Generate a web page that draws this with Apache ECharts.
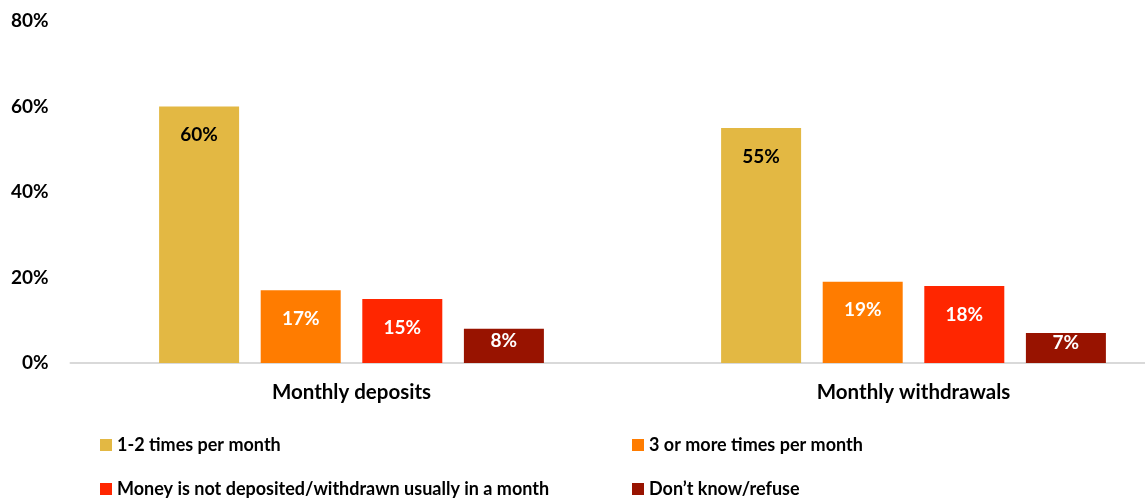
<!DOCTYPE html>
<html>
<head>
<meta charset="utf-8">
<script src="https://cdn.jsdelivr.net/npm/echarts@6/dist/echarts.min.js"></script>
<style>
  html, body { margin: 0; padding: 0; background: #fff; }
  #chart { width: 1145px; height: 501px; }
</style>
</head>
<body>
<div id="chart"></div>
<script>
// Frequency of deposits and withdrawals, share of respondents (%)
const categories = ['Monthly deposits', 'Monthly withdrawals'];
const seriesNames = [
  '1-2 times per month',
  '3 or more times per month',
  'Money is not deposited/withdrawn usually in a month',
  'Don\u2019t know/refuse'
];
const onceOrTwice = [60, 55];
const threeOrMore = [17, 19];
const notUsually = [15, 18];
const dontKnow = [8, 7];
const yTicks = [0, 20, 40, 60, 80];

const colors = ['#E3B843', '#FF7C00', '#FF2600', '#981300'];
const labelColors = ['#000000', '#ffffff', '#ffffff', '#ffffff'];
const FONT = 'Lato';

// Short bars get their label closer to the top edge
function labelDistance(v) {
  return v >= 10 ? 19 : Math.max(0, (v - 7) * 3);
}

const values = [onceOrTwice, threeOrMore, notUsually, dontKnow];
const series = values.map((vals, i) => ({
  name: seriesNames[i],
  type: 'bar',
  barWidth: 80,
  barGap: '27%',
  itemStyle: { color: colors[i] },
  data: vals.map(v => ({ value: v, label: { distance: labelDistance(v) } })),
  label: {
    show: true,
    position: 'insideTop',
    formatter: p => p.value + '%',
    color: labelColors[i],
    fontFamily: FONT,
    fontWeight: 'bold',
    fontSize: 19
  }
}));

// Legend laid out as a two-by-two grid: one legend component per entry
const legendSlots = [
  { left: 100, top: 435 },
  { left: 632, top: 435 },
  { left: 100, top: 479 },
  { left: 632, top: 479 }
];
const legend = seriesNames.map((name, i) => ({
  data: [name],
  left: legendSlots[i].left,
  top: legendSlots[i].top,
  padding: 0,
  itemWidth: 12, itemHeight: 12, icon: 'rect',
  textStyle: { fontFamily: FONT, fontWeight: 'bold', fontSize: 18, color: '#000', lineHeight: 20 }
}));

const chart = echarts.init(document.getElementById('chart'), null, { renderer: 'canvas' });
chart.setOption({
  animation: false,
  backgroundColor: '#ffffff',
  grid: { left: 70.5, top: 21, bottom: 138, width: 1124, outerBoundsMode: 'none', containLabel: false },
  legend,
  xAxis: {
    type: 'category',
    data: categories,
    axisLine: { show: true, lineStyle: { color: '#D9D9D9', width: 2 } },
    axisTick: { show: false },
    axisLabel: { fontFamily: FONT, fontWeight: 'bold', fontSize: 20.5, color: '#000', margin: 19 }
  },
  yAxis: {
    type: 'value',
    min: yTicks[0],
    max: yTicks[yTicks.length - 1],
    interval: yTicks[1] - yTicks[0],
    splitLine: { show: false },
    axisLine: { show: false },
    axisTick: { show: false },
    axisLabel: {
      formatter: v => v + '%',
      fontFamily: FONT, fontWeight: 'bold', fontSize: 19, color: '#000', margin: 22
    }
  },
  series
});
</script>
</body>
</html>
